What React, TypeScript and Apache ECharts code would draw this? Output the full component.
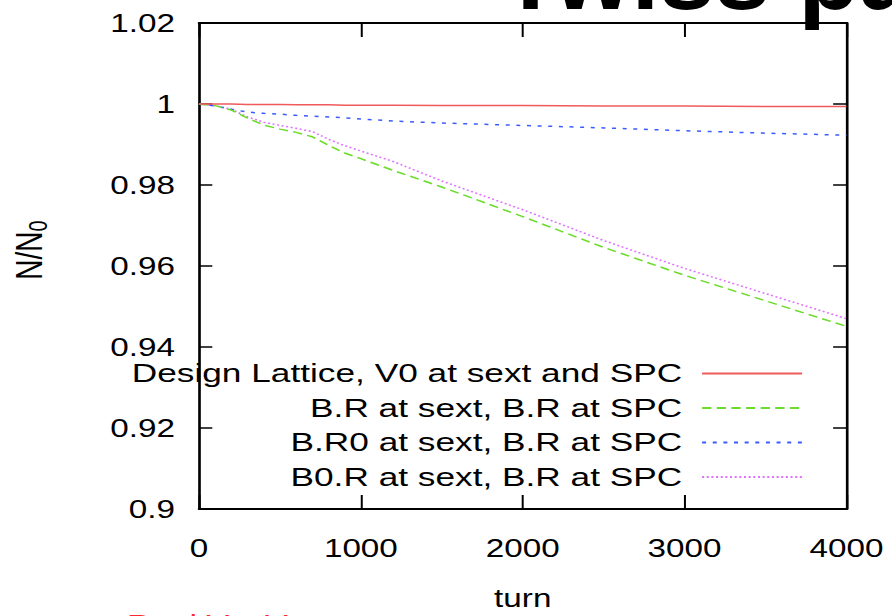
import React, { useEffect, useRef } from "react";
import * as echarts from "echarts";

const turns = [0, 100, 200, 300, 400, 500, 600, 700, 800, 900, 1000, 1200, 1500, 2000, 2500, 3000, 3500, 4000];
const designLattice = [1.0, 1.0, 1.0, 0.9999, 0.9999, 0.9999, 0.9998, 0.9998, 0.9998, 0.9997, 0.9997, 0.9997, 0.9996, 0.9996, 0.9995, 0.9995, 0.9994, 0.9994];
const brBr = [1.0, 0.9996, 0.9985, 0.9965, 0.9948, 0.9938, 0.993, 0.9919, 0.9898, 0.9879, 0.9865, 0.9836, 0.9795, 0.9722, 0.9646, 0.9577, 0.9514, 0.9451];
const br0Br = [1.0, 0.9995, 0.9987, 0.998, 0.9977, 0.9975, 0.9972, 0.997, 0.9968, 0.9966, 0.9963, 0.9958, 0.9953, 0.9947, 0.9941, 0.9934, 0.9928, 0.9923];
const b0rBr = [1.0, 0.9996, 0.9987, 0.9968, 0.9955, 0.9947, 0.994, 0.9932, 0.9913, 0.9897, 0.9884, 0.9858, 0.981, 0.9739, 0.9663, 0.9594, 0.9532, 0.947];

const seriesNames = [
  "Design Lattice, V0 at sext and SPC",
  "B.R at sext, B.R at SPC",
  "B.R0 at sext, B.R at SPC",
  "B0.R at sext, B.R at SPC",
];
const xTicks = { min: 0, max: 4000, interval: 1000 };
const yTicks = { min: 0.9, max: 1.02, interval: 0.02 };

const S = 1.33; // horizontal stretch of the reference image
const W = 892 / S;
const FONT = '"Liberation Sans", Arial, Helvetica, sans-serif';

export default function App() {
  const ref = useRef<HTMLDivElement>(null);
  useEffect(() => {
    if (!ref.current) return;
    const chart = echarts.init(ref.current, null, { renderer: "svg" });
    const pair = (arr: number[]) => turns.map((t, i) => [t, arr[i]]);
    const styles = [
      { color: "#f05a5a", type: "solid" as any, width: 1.5 },
      { color: "#6cdc2a", type: [7, 4] as any, width: 1.5 },
      { color: "#3a5cff", type: [3, 5] as any, width: 1.5 },
      { color: "#e070ff", type: [1.5, 2] as any, width: 1.5 },
    ];
    const datas = [designLattice, brBr, br0Br, b0rBr];
    const axisLine = { show: true, onZero: false, lineStyle: { color: "#000", width: 2 } };
    const labelStyle = { fontSize: 25, color: "#000", fontFamily: FONT };
    chart.setOption({
      animation: false,
      backgroundColor: "#fff",
      grid: { left: 199 / S, right: W - 846 / S, top: 23, bottom: 106 },
      xAxis: [
        {
          type: "value", ...xTicks, position: "bottom",
          axisLine, axisTick: { show: true, inside: true, length: 14, lineStyle: { color: "#000", width: 1.5 } },
          axisLabel: { ...labelStyle, margin: 27, formatter: (v: number) => String(v) },
          splitLine: { show: false },
          name: "turn", nameLocation: "middle", nameGap: 77,
          nameTextStyle: { ...labelStyle },
        },
        {
          type: "value", ...xTicks, position: "top",
          axisLine, axisTick: { show: true, inside: true, length: 14, lineStyle: { color: "#000", width: 1.5 } },
          axisLabel: { show: false }, splitLine: { show: false },
        },
      ],
      yAxis: [
        {
          type: "value", ...yTicks, position: "left",
          axisLine, axisTick: { show: true, inside: true, length: 10, lineStyle: { color: "#000", width: 1.5 } },
          axisLabel: { ...labelStyle, margin: 18 },
          splitLine: { show: false },
        },
        {
          type: "value", ...yTicks, position: "right",
          axisLine, axisTick: { show: true, inside: true, length: 10, lineStyle: { color: "#000", width: 1.5 } },
          axisLabel: { show: false }, splitLine: { show: false },
        },
      ],
      legend: {
        orient: "vertical",
        align: "right",
        right: W - 803 / S - 5,
        top: 355,
        itemWidth: 100 / S,
        itemHeight: 12,
        itemGap: 7.5,
        selectedMode: false,
        data: seriesNames,
        itemStyle: { opacity: 0, borderWidth: 0 },
        textStyle: { ...labelStyle, fontSize: 26.5, padding: [0, 10, 0, 0] },
      },
      series: seriesNames.map((name, i) => ({
        name,
        type: "line",
        data: pair(datas[i]),
        symbol: "none",
        lineStyle: styles[i],
        itemStyle: { color: styles[i].color },
        z: 4 - i,
      })),
      graphic: [
        {
          type: "text",
          x: 500 / S,
          y: -26,
          scaleX: 1 / S,
          z: 100,
          style: {
            text: "Twiss pa",
            font: `bold 100px ${FONT}`,
            fill: "#000",
            textAlign: "left",
            textVerticalAlign: "middle",
          },
        },
        {
          type: "text",
          x: 40 / S,
          y: 626,
          scaleX: 1 / S,
          z: 100,
          style: {
            text: "•",
            font: `34px ${FONT}`,
            fill: "#ff2a2a",
            textAlign: "left",
            textVerticalAlign: "middle",
          },
        },
        {
          type: "text",
          x: 127 / S,
          y: 626,
          scaleX: 1 / S,
          z: 100,
          style: {
            text: "Real Vx, Vy",
            font: `34px ${FONT}`,
            fill: "#ff2a2a",
            textAlign: "left",
            textVerticalAlign: "middle",
          },
        },
        {
          type: "text",
          x: 29 / S,
          y: 250,
          rotation: Math.PI / 2,
          style: {
            text: "{a|N/N}{b|0}",
            fill: "#000",
            textAlign: "center",
            textVerticalAlign: "middle",
            rich: {
              a: { fontSize: 28, fontFamily: FONT, fill: "#000" },
              b: { fontSize: 20, fontFamily: FONT, fill: "#000", padding: [13, 0, 0, 0] },
            },
          },
        },
      ],
    });
    return () => chart.dispose();
  }, []);
  return (
    <div style={{ position: "fixed", left: 0, top: 0, width: 892, height: 616, overflow: "hidden", background: "#fff" }}>
      <div
        ref={ref}
        style={{ width: W, height: 616, transform: `scaleX(${S})`, transformOrigin: "0 0" }}
      />
    </div>
  );
}
